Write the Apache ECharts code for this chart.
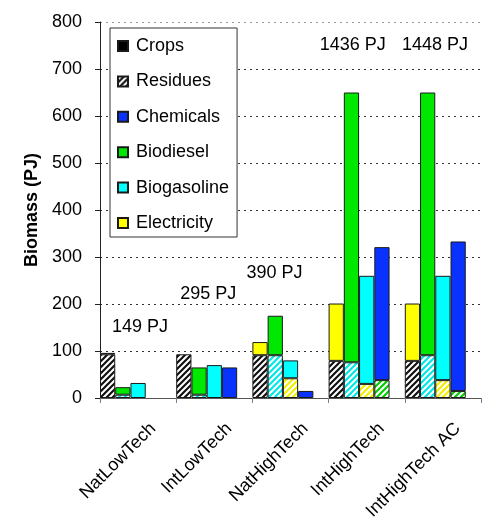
<!DOCTYPE html>
<html>
<head>
<meta charset="utf-8">
<script src="https://cdn.jsdelivr.net/npm/echarts@6/dist/echarts.min.js"></script>
<style>html,body{margin:0;padding:0;background:#fff}#c{width:495px;height:517px}</style>
</head>
<body>
<div id="c"></div>
<script>
// ---- data ----
const categories = ['NatLowTech', 'IntLowTech', 'NatHighTech', 'IntHighTech', 'IntHighTech AC'];
// column 1: residues (hatched) + electricity
const residues    = [93, 93, 91, 79, 79];
const electricity = [3, 0, 28, 122, 122];
// column 2: hatched part + biodiesel
const col2Hatched = [7, 7, 91, 76, 91];
const biodiesel   = [16, 58, 84, 574, 559];
// column 3: hatched part + biogasoline
const col3Hatched = [0, 0, 42, 30, 38];
const biogasoline = [32, 70, 38, 230, 222];
// column 4: hatched part + chemicals
const col4Hatched = [0, 0, 0, 38, 15];
const chemicals   = [0, 65, 15, 283, 318];
// totals shown above each group
const totals = [149, 295, 390, 1436, 1448];
const yTicks = [0, 100, 200, 300, 400, 500, 600, 700, 800];

// ---- styling / layout ----
const FONT = 'Liberation Sans, Arial, sans-serif';
const C_YELLOW = '#ffff00', C_GREEN = '#00e800', C_CYAN = '#00ffff', C_BLUE = '#0a32ff';
const BORDER = '#1a1a1a';

function hatch(color) {
  const c = document.createElement('canvas');
  c.width = 6; c.height = 6;
  const g = c.getContext('2d');
  g.fillStyle = '#ffffff'; g.fillRect(0, 0, 6, 6);
  g.strokeStyle = color; g.lineWidth = 2.2;
  g.beginPath();
  for (let k = -6; k <= 12; k += 6) { g.moveTo(k - 1, 7); g.lineTo(k + 7, -1); }
  g.stroke();
  return { image: c, repeat: 'repeat' };
}

function bar(name, data, stack, color) {
  return {
    name, type: 'bar', stack,
    data: data.map(v => (v === 0 ? null : v)),   // zero-height segments are not drawn
    barGap: '0%', barCategoryGap: '0%',
    itemStyle: { color, borderColor: BORDER, borderWidth: 1 },
    emphasis: { disabled: true }, silent: true
  };
}

// label anchors for the total labels (layout only): [height on axis, x offset px]
const labelAnchor = [[151, 2], [221, -6], [266, -16], [751, -14], [751, -8]];

const chart = echarts.init(document.getElementById('c'), null, { renderer: 'canvas' });
chart.setOption({
  backgroundColor: '#ffffff',
  animation: false,
  textStyle: { fontFamily: FONT },
  grid: { left: 100, right: 14, top: 22, bottom: 119, containLabel: false, outerBoundsMode: 'none' },
  legend: {
    orient: 'vertical', left: 110, top: 28,
    backgroundColor: '#ffffff', borderColor: '#333', borderWidth: 1, borderRadius: 0,
    padding: [9, 8, 5, 7],
    itemWidth: 10, itemHeight: 10, itemGap: 17.4,
    icon: 'rect',
    textStyle: { fontSize: 18, color: '#000', fontFamily: FONT, padding: [0, 0, 0, 3] },
    data: ['Crops', 'Residues', 'Chemicals', 'Biodiesel', 'Biogasoline', 'Electricity'],
    selectedMode: false
  },
  xAxis: {
    type: 'category', data: categories,
    axisLine: { lineStyle: { color: '#555', width: 1 } },
    axisTick: { show: true, length: 5, lineStyle: { color: '#7a7a9a' } },
    axisLabel: { rotate: 45, fontSize: 18, color: '#000', fontFamily: FONT, margin: 13, interval: 0,
      verticalAlign: 'top', lineHeight: 42 },
    splitLine: { show: false }
  },
  yAxis: {
    type: 'value', min: 0, max: 800, interval: 100,
    name: 'Biomass (PJ)', nameLocation: 'middle', nameGap: 51, nameRotate: 90,
    nameTextStyle: { fontSize: 18, fontWeight: 'bold', color: '#000', fontFamily: FONT },
    axisLine: { show: true, lineStyle: { color: '#222', width: 1 } },
    axisTick: { show: true, length: 5, lineStyle: { color: '#222' } },
    axisLabel: { fontSize: 18, color: '#000', margin: 18, fontFamily: FONT,
      formatter: v => yTicks.includes(v) ? String(v) : '' },
    splitLine: { show: true, lineStyle: { color: ['#333', '#333', '#333', '#333', '#333', '#333', '#333', '#333', '#999'], type: [2, 4], width: 1 } }
  },
  series: [
    bar('Residues', residues, 'c1', hatch('#111111')),
    bar('Crops', categories.map(() => 0), 'c1', '#000000'),
    bar('Electricity', electricity, 'c1', C_YELLOW),
    bar('Biodiesel residues', col2Hatched, 'c2', hatch('#00e8e8')),
    bar('Biodiesel', biodiesel, 'c2', C_GREEN),
    bar('Biogasoline residues', col3Hatched, 'c3', hatch('#f0f000')),
    bar('Biogasoline', biogasoline, 'c3', C_CYAN),
    bar('Chemicals residues', col4Hatched, 'c4', hatch('#00d000')),
    bar('Chemicals', chemicals, 'c4', C_BLUE),
    { name: 'spacer', type: 'bar', stack: 'c5', data: categories.map(() => null), silent: true,
      barGap: '0%', barCategoryGap: '0%' },
    {
      name: 'totals', type: 'scatter', symbolSize: 0, silent: true, z: 10,
      itemStyle: { color: '#000', opacity: 1 },
      data: totals.map((t, i) => ({
        value: [i, labelAnchor[i][0]],
        label: { offset: [labelAnchor[i][1], 0] }
      })),
      label: { show: true, position: 'inside', fontSize: 18, color: '#000', fontFamily: FONT,
        opacity: 1, textBorderWidth: 0, textBorderColor: 'transparent',
        formatter: p => totals[p.dataIndex] + ' PJ' }
    }
  ]
});
</script>
</body>
</html>
